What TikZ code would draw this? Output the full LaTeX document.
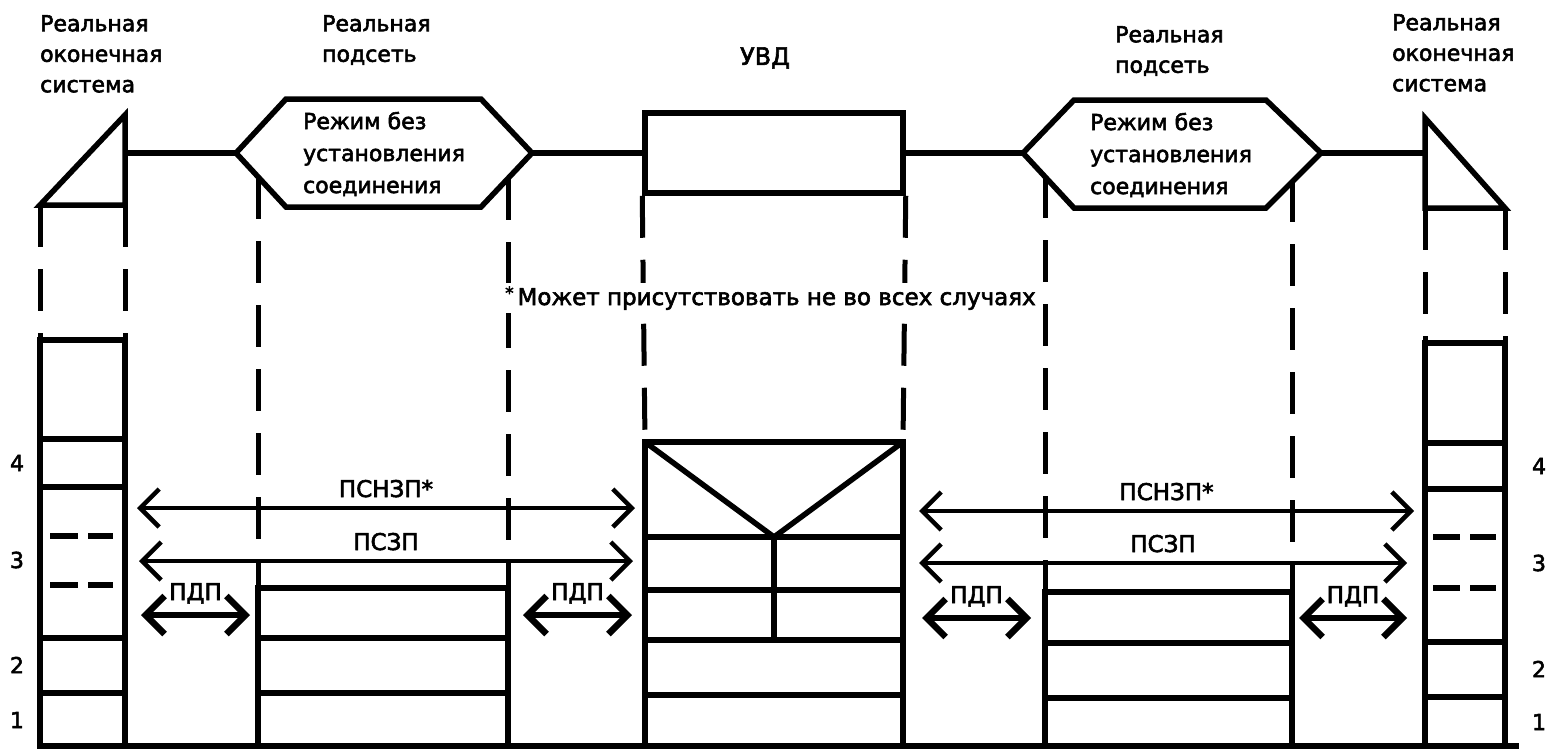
\documentclass[tikz,border=0pt]{standalone}
\usepackage{fontspec}
\setmainfont{DejaVu Sans}[FakeBold=2.5]
\usetikzlibrary{arrows.meta, positioning, calc}
\tikzstyle{frame} = [line width=5.5pt, line join=miter]
\tikzstyle{dashedline} = [line width=5pt, dash pattern=on 42pt off 22pt]
\tikzstyle{proto} = [line width=4.5pt, {Straight Barb[length=19pt,width=38pt]}-{Straight Barb[length=19pt,width=38pt]}]

\begin{document}
\begin{tikzpicture}[x=1pt, y=-1pt,
  every node/.style={inner sep=0pt, font=\fontsize{22}{30.5}\selectfont},
  title/.style={anchor=north west, align=left},
  hextext/.style={align=left, font=\fontsize{22}{32}\selectfont},
  lbl/.style={anchor=base, yshift=11pt, font=\fontsize{23}{23}\selectfont},
  num/.style={font=\fontsize{22}{22}\selectfont},
  unit/.style={draw, line width=5.5pt, minimum width=258pt, minimum height=80pt},
  shortproto/.style={line width=6.5pt, {Straight Barb[length=19pt,width=38pt]}-{Straight Barb[length=19pt,width=38pt]}}
]
\useasboundingbox (0,0) rectangle (1557,750);

% Titles
\node[title] (esLtitle) at (40,15) {Реальная\\оконечная\\система};
\node[title] (snLtitle) at (322,15) {Реальная\\подсеть};
\node[font=\fontsize{24}{24}\selectfont] (uvdtitle) at (765,58) {УВД};
\node[title] (snRtitle) at (1115,26) {Реальная\\подсеть};
\node[title] (esRtitle) at (1392,14) {Реальная\\оконечная\\система};

% Upper row
\draw[frame] (125,115) -- (125,205) coordinate (esL-se) -- (40,205) coordinate (esL-sw) -- cycle;
\coordinate (esL-e) at (125,153);
\draw[frame] (236,153) coordinate (hexL-w) -- (286,99) -- (481,99) -- (532,153) coordinate (hexL-e)
  -- (481,207) -- (286,207) -- cycle;
\node[hextext] (hexL) at (384,154) {Режим без\\установления\\соединения};
\node[unit] (uvd) at (774,153) {};
\draw[frame] (1023,153) coordinate (hexR-w) -- (1074,100) -- (1266,100) -- (1321,153) coordinate (hexR-e)
  -- (1266,208) -- (1074,208) -- cycle;
\node[hextext] (hexR) at (1171,155) {Режим без\\установления\\соединения};
\draw[frame] (1425,118) -- (1505,208) coordinate (esR-se) -- (1425,208) coordinate (esR-sw) -- cycle;
\coordinate (esR-w) at (1425,153);

\draw[frame] (esL-e) -- (hexL-w);
\draw[frame] (hexL-e) -- (uvd.west);
\draw[frame] (uvd.east) -- (hexR-w);
\draw[frame] (hexR-e) -- (esR-w);

% Dashed links down to the stacks
\draw[dashedline] (esL-sw) -- (40,340);
\draw[dashedline] (esL-se) -- (125,340);
\draw[dashedline] (258,177) -- (258,588);
\draw[dashedline] (508,178) -- (508,588);
\draw[dashedline] (uvd.south west) -- (645,442);
\draw[dashedline] (uvd.south east) -- (903,442);
\draw[dashedline] (1045,176) -- (1045,592);
\draw[dashedline] (1292,180) -- (1292,592);
\draw[dashedline] (esR-sw) -- (1425,343);
\draw[dashedline] (esR-se) -- (1505,343);

\node[anchor=base west, fill=white, inner sep=3pt, font=\fontsize{23}{23}\selectfont] (note) at (502,305)
  {{\fontsize{17}{17}\selectfont\raisebox{6pt}{*}}\,Может присутствовать не во всех случаях};

% Stacks
\draw[frame] (40,746) -- (40,340) -- (125,340) -- (125,746);
\foreach \y in {439,487,638,693} \draw[frame] (40,\y) -- (125,\y);
\foreach \y in {536,585} {
  \draw[frame] (50,\y) -- (78,\y);
  \draw[frame] (88,\y) -- (113,\y);
}
\draw[frame] (258,746) -- (258,588) -- (508,588) -- (508,746);
\foreach \y in {638,693} \draw[frame] (258,\y) -- (508,\y);
\draw[frame] (645,746) -- (645,442) -- (903,442) -- (903,746);
\foreach \y in {537,590,640,695} \draw[frame] (645,\y) -- (903,\y);
\draw[frame] (645,442) -- (774,537) -- (903,442);
\draw[frame] (774,537) -- (774,640);
\draw[frame] (1045,746) -- (1045,592) -- (1292,592) -- (1292,746);
\foreach \y in {643,698} \draw[frame] (1045,\y) -- (1292,\y);
\draw[frame] (1425,746) -- (1425,343) -- (1505,343) -- (1505,746);
\foreach \y in {443,489,642,697} \draw[frame] (1425,\y) -- (1505,\y);
\foreach \y in {537,588} {
  \draw[frame] (1433,\y) -- (1460,\y);
  \draw[frame] (1470,\y) -- (1496,\y);
}
\draw[line width=6pt] (37,746) -- (1519,746);

% Layer numbers
\node[num] (l4) at (17,463) {4};
\node[num] (l3) at (17,560) {3};
\node[num] (l2) at (17,665) {2};
\node[num] (l1) at (17,720) {1};
\node[num] (r4) at (1539,466) {4};
\node[num] (r3) at (1539,563) {3};
\node[num] (r2) at (1539,669) {2};
\node[num] (r1) at (1539,722) {1};

% Protocol arrows, left half
\coordinate (a1) at (137,508); \coordinate (b1) at (635,508);
\coordinate (a2) at (139,561); \coordinate (b2) at (633,561);
\coordinate (a3) at (141,615); \coordinate (b3) at (250,615);
\coordinate (a4) at (523,615); \coordinate (b4) at (632,615);
\draw[proto] (a1) -- node[lbl] {ПСНЗП*} (b1);
\draw[proto] (a2) -- node[lbl] {ПСЗП} (b2);
\draw[shortproto] (a3) -- node[lbl, yshift=4pt] {ПДП} (b3);
\draw[shortproto] (a4) -- node[lbl, yshift=4pt] {ПДП} (b4);

% Protocol arrows, right half
\coordinate (c1) at (919,511); \coordinate (d1) at (1414,511);
\coordinate (c2) at (919,563); \coordinate (d2) at (1407,563);
\coordinate (c3) at (922,618); \coordinate (d3) at (1031,618);
\coordinate (c4) at (1299,618); \coordinate (d4) at (1407,618);
\draw[proto] (c1) -- node[lbl] {ПСНЗП*} (d1);
\draw[proto] (c2) -- node[lbl] {ПСЗП} (d2);
\draw[shortproto] (c3) -- node[lbl, yshift=4pt] {ПДП} (d3);
\draw[shortproto] (c4) -- node[lbl, yshift=4pt] {ПДП} (d4);

\end{tikzpicture}
\end{document}
